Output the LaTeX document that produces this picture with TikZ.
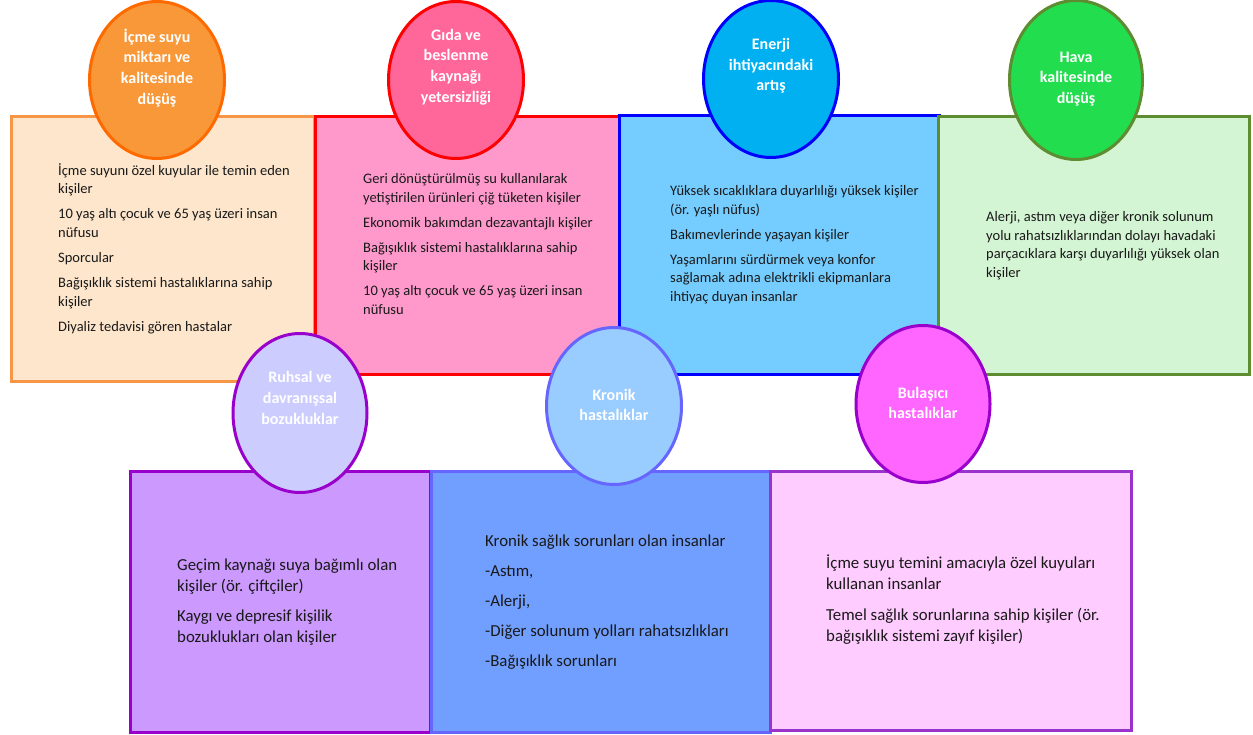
\documentclass[tikz,border=0pt]{standalone}
\usepackage{fontspec}
\setmainfont{Carlito}
\usetikzlibrary{positioning,shapes}
\definecolor{orline}{HTML}{F79646}
\definecolor{orfill}{HTML}{FDE6CC}
\definecolor{orhead}{HTML}{F89838}
\definecolor{orhline}{HTML}{FF6A00}
\definecolor{pkfill}{HTML}{FF99CC}
\definecolor{pkhead}{HTML}{FF6699}
\definecolor{blfill}{HTML}{75CDFF}
\definecolor{blhead}{HTML}{00B0F0}
\definecolor{grline}{HTML}{5E8C31}
\definecolor{grfill}{HTML}{D4F5D4}
\definecolor{grhead}{HTML}{22DD4E}
\definecolor{puline}{HTML}{9900CC}
\definecolor{pufill}{HTML}{CC99FF}
\definecolor{puhead}{HTML}{CCCCFF}
\definecolor{knline}{HTML}{6666FF}
\definecolor{knfill}{HTML}{719FFF}
\definecolor{knhead}{HTML}{99CCFF}
\definecolor{bufill}{HTML}{FFCCFF}
\definecolor{buline}{HTML}{9933CC}
\definecolor{buhead}{HTML}{FF66FF}
\tikzstyle{box}=[rectangle,line width=3pt,anchor=north west,inner sep=0pt]
\tikzstyle{head}=[ellipse,line width=3pt,inner sep=0pt,minimum width=135pt,minimum height=157pt]
\tikzstyle{htext}=[align=center,text=white,inner sep=0pt,font=\fontsize{16}{20.7}\selectfont\bfseries]
\tikzstyle{toplist}=[align=left,anchor=north west,inner sep=0pt,text=black!90,
font=\fontsize{14.5}{18.8}\selectfont]
\tikzstyle{botlist}=[align=left,anchor=north west,inner sep=0pt,text=black!90,
font=\fontsize{16.8}{21}\selectfont]

\begin{document}
\begin{tikzpicture}[x=1pt,y=-1pt]
            \useasboundingbox (0,0) rectangle (1253,735);

            % TOP ROW

            \node[box,draw=orline,fill=orfill,minimum width=303pt,minimum height=265pt] (b1) at (10,115) {};
            \node[box,draw=red,fill=pkfill,minimum width=304pt,minimum height=258pt] (b2) at (314,115) {};
            \node[box,draw=blue,fill=blfill,minimum width=320pt,minimum height=259pt] (b3) at (618,114) {};
            \node[box,draw=grline,fill=grfill,minimum width=311pt,minimum height=258pt] (b4) at (937,115) {};

            \node[head,draw=orhline,fill=orhead] (e1) at (157,80) {};
            \node[head,draw=red,fill=pkhead] (e2) at (456,80) {};
            \node[head,draw=blue,fill=blhead] (e3) at (771,79) {};
            \node[head,draw=grline,fill=grhead,minimum width=133pt,minimum height=159pt] (e4) at (1076,80) {};

            \node[htext] (h1) at (157,68) {İçme suyu\\miktarı ve\\kalitesinde\\düşüş};
            \node[htext] (h2) at (456,67) {Gıda ve\\beslenme\\kaynağı\\yetersizliği};
            \node[htext] (h3) at (771,66) {Enerji\\ihtiyacındaki\\artış};
            \node[htext] (h4) at (1076,79) {Hava\\kalitesinde\\düşüş};

            \node[toplist] (l1) at (58,163) {İçme suyunı özel kuyular ile temin eden\\kişiler\\[6.2pt]
                10 yaş altı çocuk ve 65 yaş üzeri insan\\nüfusu\\[6.2pt]
                Sporcular\\[6.2pt]
                Bağışıklık sistemi hastalıklarına sahip\\kişiler\\[6.2pt]
                Diyaliz tedavisi gören hastalar};
            \node[toplist] (l2) at (363,173) {Geri dönüştürülmüş su kullanılarak\\yetiştirilen ürünleri çiğ tüketen kişiler\\[6.2pt]
                Ekonomik bakımdan dezavantajlı kişiler\\[6.2pt]
                Bağışıklık sistemi hastalıklarına sahip\\kişiler\\[6.2pt]
                10 yaş altı çocuk ve 65 yaş üzeri insan\\nüfusu};
            \node[toplist] (l3) at (670,185) {Yüksek sıcaklıklara duyarlılığı yüksek kişiler\\(ör. yaşlı nüfus)\\[6.2pt]
                Bakımevlerinde yaşayan kişiler\\[6.2pt]
                Yaşamlarını sürdürmek veya konfor\\sağlamak adına elektrikli ekipmanlara\\ihtiyaç duyan insanlar};
            \node[toplist] (l4) at (986,211) {Alerji, astım veya diğer kronik solunum\\yolu rahatsızlıklarından dolayı havadaki\\
                parçacıklara karşı duyarlılığı yüksek olan\\kişiler};

            % BOTTOM ROW

            \node[box,draw=puline,fill=pufill,minimum width=300pt,minimum height=261pt] (b5) at (129,470) {};
            \node[box,draw=knline,fill=knfill,minimum width=339pt,minimum height=261pt] (b6) at (430,470) {};
            \node[box,draw=buline,fill=bufill,minimum width=361pt,minimum height=259pt] (b7) at (769,470) {};

            \node[head,draw=puline,fill=puhead,minimum width=134pt,minimum height=159pt] (e5) at (300,413) {};
            \node[head,draw=knline,fill=knhead] (e6) at (614,406) {};
            \node[head,draw=puline,fill=buhead,minimum width=134pt] (e7) at (923,404) {};

            \node[htext] (h5) at (300,398) {Ruhsal ve\\davranışsal\\bozukluklar};
            \node[htext] (h6) at (614,405) {Kronik\\hastalıklar};
            \node[htext] (h7) at (923,403) {Bulaşıcı\\hastalıklar};

            \node[botlist] (l5) at (177,559) {Geçim kaynağı suya bağımlı olan\\kişiler (ör. çiftçiler)\\[9pt]
                Kaygı ve depresif kişilik\\bozuklukları olan kişiler};
            \node[botlist] (l6) at (485,535) {Kronik sağlık sorunları olan insanlar\\[9pt]
                -Astım,\\[9pt]
                -Alerji,\\[9pt]
                -Diğer solunum yolları rahatsızlıkları\\[9pt]
                -Bağışıklık sorunları};
            \node[botlist] (l7) at (826,555) {İçme suyu temini amacıyla özel kuyuları\\kullanan insanlar\\[10pt]
                Temel sağlık sorunlarına sahip kişiler (ör.\\bağışıklık sistemi zayıf kişiler)};

        \end{tikzpicture}
\end{document}
